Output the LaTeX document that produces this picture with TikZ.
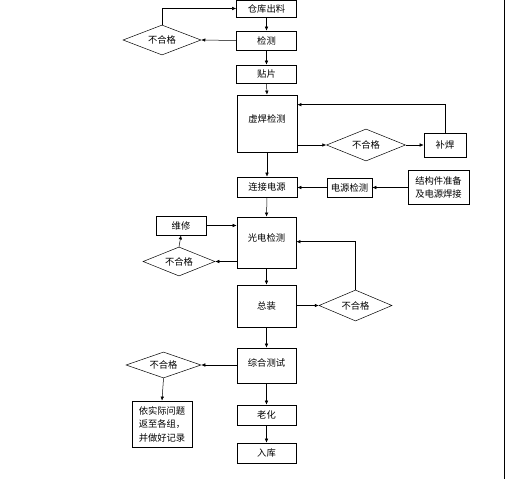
\documentclass[tikz,border=0pt]{standalone}
\usepackage{fontspec}
\setmainfont{Noto Sans CJK SC}
\usetikzlibrary{shapes.geometric,arrows.meta,calc}
\tikzset{
  box/.style={draw, line width=0.7pt, inner sep=1pt, font=\fontsize{9.3}{12}\selectfont},
  dia/.style={draw, diamond, aspect=2.5, inner sep=0pt, line width=0.5pt, font=\fontsize{9.3}{12}\selectfont},
  arr/.style={draw, line width=0.5pt, -{Latex[length=4pt,width=3.5pt]}},
}
\begin{document}
\begin{tikzpicture}[x=1pt,y=-1pt]
\useasboundingbox (0,0) rectangle (506,479);
\fill[white] (0,0) rectangle (506,479);
\draw[line width=0.8pt] (504,0) -- (504,479);

\node[box, minimum width=60pt, minimum height=17pt] (n1) at (266.5,8.5) {仓库出料};
\node[box, minimum width=60pt, minimum height=19pt] (n2) at (266.5,40.5) {检测};
\node[box, minimum width=60pt, minimum height=18pt] (n3) at (266.5,74) {贴片};
\node[box, minimum width=60pt, minimum height=57pt, text depth=10pt] (n4) at (267,123.5) {虚焊检测};
\node[dia, minimum width=78pt, minimum height=30pt] (d1) at (162,40) {不合格};
\node[dia, minimum width=79pt, minimum height=32pt] (d2) at (366,145) {不合格};
\node[box, minimum width=42pt, minimum height=24pt] (n5) at (445,145) {补焊};
\node[box, minimum width=60pt, minimum height=20pt] (n6) at (267,187) {连接电源};
\node[box, minimum width=45pt, minimum height=19pt] (n7) at (349.5,187.5) {电源检测};
\node[box, minimum width=61pt, minimum height=34pt, align=left, font=\fontsize{9.3}{13}\selectfont] (n8) at (438.5,187) {结构件准备\\及电源焊接};
\node[box, minimum width=59pt, minimum height=51pt, text depth=10pt] (n9) at (266.5,242.5) {光电检测};
\node[box, minimum width=50pt, minimum height=19pt] (n10) at (181,225.5) {维修};
\node[dia, minimum width=72pt, minimum height=29pt] (d3) at (179,261.5) {不合格};
\node[box, minimum width=59pt, minimum height=42pt] (n11) at (266.5,306) {总装};
\node[dia, minimum width=73pt, minimum height=31pt] (d4) at (355.5,305.5) {不合格};
\node[box, minimum width=59pt, minimum height=35pt, text depth=6pt] (n12) at (266.5,365.5) {综合测试};
\node[dia, minimum width=75pt, minimum height=26pt] (d5) at (163.5,365) {不合格};
\node[box, minimum width=60pt, minimum height=46pt, align=left, font=\fontsize{9.3}{13.5}\selectfont] (n13) at (162,424) {依实际问题\\返至各组，\\并做好记录};
\node[box, minimum width=59pt, minimum height=20pt] (n14) at (266.5,415) {老化};
\node[box, minimum width=59pt, minimum height=20pt] (n15) at (266.5,453) {入库};

\draw[arr] (d1.north) |- (n1.west);
\draw[arr] (n1.south) -- (n2.north);
\draw[arr] (n2.west) -- (d1.east);
\draw[arr] (n2.south) -- (n3.north);
\draw[arr] (n3.south) -- (n4.north);
\draw[arr] (n4.east |- d2) -- (d2.west);
\draw[arr] (d2.east) -- (n5.west);
\draw[arr] (n5.north) |- ([yshift=-10pt]n4.north east);
\draw[arr] (n4.south) -- (n6.north);
\draw[arr] (n7.west) -- (n6.east |- n7);
\draw[arr] (n8.west |- n7) -- (n7.east);
\draw[arr] (n6.south) -- (n9.north);
\draw[arr] (n10.east) -- (n9.west |- n10);
\draw[arr] (n9.west |- d3) -- (d3.east);
\draw[arr] (d3.north) -- (n10.south);
\draw[arr] (n9.south) -- (n11.north);
\draw[arr] (n11.east |- d4) -- (d4.west);
\draw[arr] (d4.north) |- ([yshift=-25pt]n9.north east);
\draw[arr] (n11.south) -- (n12.north);
\draw[arr] (n12.west |- d5) -- (d5.east);
\draw[arr] (d5.south) -- (n13.north);
\draw[arr] (n12.south) -- (n14.north);
\draw[arr] (n14.south) -- (n15.north);
\end{tikzpicture}
\end{document}
